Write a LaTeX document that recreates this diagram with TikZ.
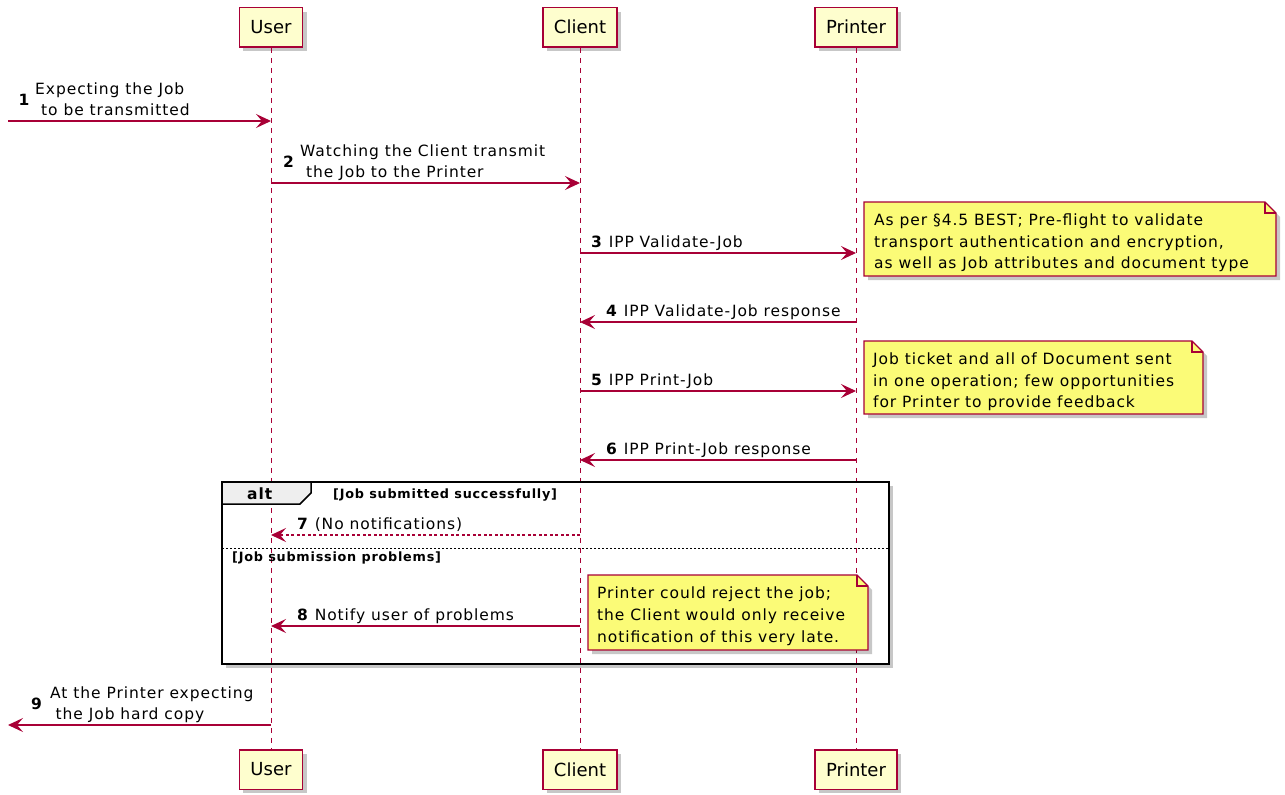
\documentclass[tikz,border=0pt]{standalone}
\usepackage{fontspec}
\setmainfont{DejaVu Sans}[LetterSpace=6]
\newfontfamily\partfont{DejaVu Sans}
\usetikzlibrary{arrows.meta,shadows}
\definecolor{puml}{HTML}{A80036}
\definecolor{partfill}{HTML}{FEFECE}
\definecolor{notefill}{HTML}{FBFB77}
\definecolor{tabfill}{HTML}{EEEEEE}
\tikzset{
  shd/.style={drop shadow={shadow xshift=4pt,shadow yshift=-4pt,fill=black,opacity=0.22}},
  participant/.style={draw=puml,fill=partfill,line width=1.5pt,minimum height=39.5pt,
    inner xsep=11pt,inner ysep=0pt,font=\partfont\fontsize{18}{22}\selectfont,shd},
  lifeline/.style={draw=puml,line width=0.9pt,dash pattern=on 5pt off 5pt},
  msg/.style={draw=puml,line width=1.2pt,-{Stealth[length=15pt,width=14pt,inset=6pt]}},
  ret/.style={msg,dash pattern=on 3pt off 2.5pt},
  lbl/.style={anchor=base west,inner sep=0pt,font=\fontsize{15.5}{21}\selectfont},
  num/.style={anchor=base west,inner sep=0pt,font=\bfseries\fontsize{15.5}{21}\selectfont},
  guard/.style={anchor=base west,inner sep=0pt,font=\bfseries\fontsize{12.8}{15}\selectfont},
  notebox/.style={draw=puml,fill=notefill,line width=1.2pt,shd},
  notefold/.style={draw=puml,line width=1.2pt},
}
\begin{document}
\begin{tikzpicture}[x=1pt,y=-1pt]
\useasboundingbox (0,0) rectangle (1285,795);

% alt frame background
\path[fill=white,shd] (222,482) rectangle (889,664);

% participants
\node[participant] (uT) at (271,27.25) {User};
\node[participant] (cT) at (580,27.25) {Client};
\node[participant] (pT) at (856,27.25) {Printer};
\node[participant] (uB) at (271,769.5) {User};
\node[participant] (cB) at (580,769.5) {Client};
\node[participant] (pB) at (856,769.5) {Printer};

% lifelines
\draw[lifeline] (uT.south) -- (uB.north);
\draw[lifeline] (cT.south) -- (cB.north);
\draw[lifeline] (pT.south) -- (pB.north);

% alt tab and frame
\draw[line width=1.5pt,fill=tabfill] (222,482) -- (311,482) -- (311,493) -- (300,504) -- (222,504) -- cycle;
\draw[line width=2pt] (222,482) rectangle (889,664);
\draw[line width=0.8pt,dash pattern=on 2pt off 2pt] (222,548) -- (889,548);
\node[anchor=base west,inner sep=0pt,font=\bfseries\fontsize{15.5}{18}\selectfont] (altlbl) at (247,499) {alt};
\node[guard] (g1) at (333,498) {[Job submitted successfully]};
\node[guard] (g2) at (232,561) {[Job submission problems]};

% message 1
\coordinate (m1a) at (8,121);
\coordinate (m1b) at (271,121);
\draw[msg] (m1a) -- (m1b);
\node[num] (n1) at (18.5,105) {1};
\node[lbl] (t1a) at (35,94) {Expecting the Job};
\node[lbl] (t1b) at (41,115) {to be transmitted};

% message 2
\coordinate (m2a) at (271,183);
\coordinate (m2b) at (580,183);
\draw[msg] (m2a) -- (m2b);
\node[num] (n2) at (283,167) {2};
\node[lbl] (t2a) at (300,156) {Watching the Client transmit};
\node[lbl] (t2b) at (306,177) {the Job to the Printer};

% message 3
\coordinate (m3a) at (580,253);
\coordinate (m3b) at (856,253);
\draw[msg] (m3a) -- (m3b);
\node[lbl] (t3) at (591,247) {\textbf{3} IPP Validate-Job};

% note 1
\draw[notebox] (864,202) -- (1265,202) -- (1276,213) -- (1276,276) -- (864,276) -- cycle;
\draw[notefold] (1265,202) -- (1265,213) -- (1276,213);
\node[lbl] (n1a) at (874,225.5) {As per §4.5 BEST; Pre-flight to validate};
\node[lbl] (n1b) at (874,247) {transport authentication and encryption,};
\node[lbl] (n1c) at (874,268.5) {as well as Job attributes and document type};

% message 4
\coordinate (m4a) at (856,322);
\coordinate (m4b) at (580,322);
\draw[msg] (m4a) -- (m4b);
\node[lbl] (t4) at (606,316) {\textbf{4} IPP Validate-Job response};

% message 5
\coordinate (m5a) at (580,391);
\coordinate (m5b) at (856,391);
\draw[msg] (m5a) -- (m5b);
\node[lbl] (t5) at (591,385) {\textbf{5} IPP Print-Job};

% note 2
\draw[notebox] (864,341) -- (1192,341) -- (1203,352) -- (1203,414) -- (864,414) -- cycle;
\draw[notefold] (1192,341) -- (1192,352) -- (1203,352);
\node[lbl] (n2a) at (873,364.5) {Job ticket and all of Document sent};
\node[lbl] (n2b) at (873,386) {in one operation; few opportunities};
\node[lbl] (n2c) at (873,407.5) {for Printer to provide feedback};

% message 6
\coordinate (m6a) at (856,460);
\coordinate (m6b) at (580,460);
\draw[msg] (m6a) -- (m6b);
\node[lbl] (t6) at (606,454) {\textbf{6} IPP Print-Job response};

% message 7
\coordinate (m7a) at (580,535);
\coordinate (m7b) at (271,535);
\draw[ret] (m7a) -- (m7b);
\node[lbl] (t7) at (297,529) {\textbf{7} (No notifications)};

% message 8
\coordinate (m8a) at (580,626);
\coordinate (m8b) at (271,626);
\draw[msg] (m8a) -- (m8b);
\node[lbl] (t8) at (297,620) {\textbf{8} Notify user of problems};

% note 3
\draw[notebox] (588,575) -- (857,575) -- (868,586) -- (868,650) -- (588,650) -- cycle;
\draw[notefold] (857,575) -- (857,586) -- (868,586);
\node[lbl] (n3a) at (597,598) {Printer could reject the job;};
\node[lbl] (n3b) at (597,620) {the Client would only receive};
\node[lbl] (n3c) at (597,642) {notification of this very late.};

% message 9
\coordinate (m9a) at (271,725);
\coordinate (m9b) at (8,725);
\draw[msg] (m9a) -- (m9b);
\node[num] (n9) at (31,709) {9};
\node[lbl] (t9a) at (50,698) {At the Printer expecting};
\node[lbl] (t9b) at (55.5,719) {the Job hard copy};
\end{tikzpicture}
\end{document}
